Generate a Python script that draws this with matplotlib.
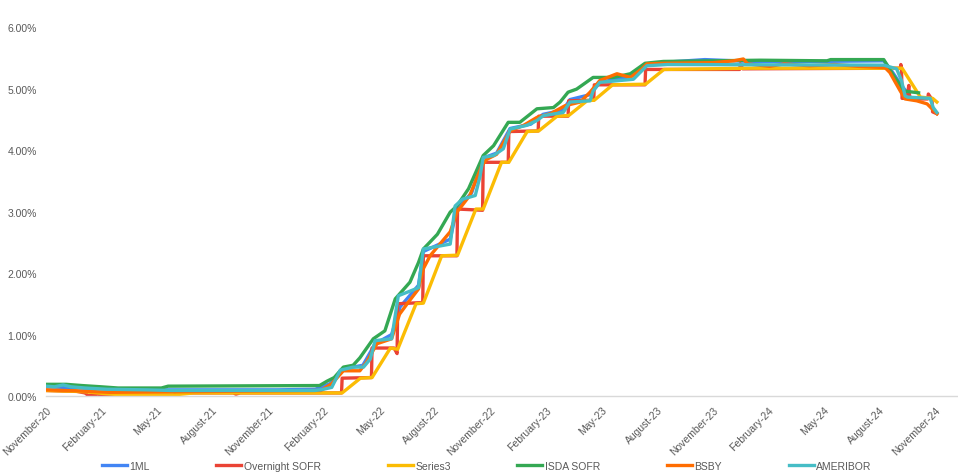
import pandas as pd
import matplotlib.pyplot as plt
from matplotlib.ticker import FuncFormatter

plt.rcParams['font.family'] = ['Liberation Sans', 'DejaVu Sans']

# rates in percent (date, value)
ml1 = [('2020-11-17', 0.15), ('2021-01-15', 0.13), ('2021-03-01', 0.11), ('2021-06-01', 0.10),
       ('2021-12-01', 0.10), ('2022-02-01', 0.11), ('2022-02-25', 0.20), ('2022-03-19', 0.44),
       ('2022-04-20', 0.50), ('2022-05-10', 0.85), ('2022-06-06', 1.00), ('2022-06-20', 1.45),
       ('2022-07-20', 1.80), ('2022-07-28', 2.35), ('2022-09-10', 2.55), ('2022-09-21', 3.05),
       ('2022-10-15', 3.30), ('2022-11-03', 3.87), ('2022-11-25', 3.95), ('2022-12-17', 4.35),
       ('2023-01-20', 4.42), ('2023-02-09', 4.58), ('2023-03-14', 4.65), ('2023-03-25', 4.82),
       ('2023-04-27', 4.90), ('2023-05-13', 5.10), ('2023-06-30', 5.19), ('2023-07-28', 5.39),
       ('2023-09-01', 5.43), ('2023-11-01', 5.47), ('2024-01-15', 5.44), ('2024-05-01', 5.44),
       ('2024-08-20', 5.45), ('2024-09-01', 5.30), ('2024-09-18', 5.05), ('2024-09-30', 4.90)]

sofr = [('2020-11-17', 0.09), ('2020-12-15', 0.08), ('2021-01-04', 0.08), ('2021-01-20', 0.05),
        ('2021-01-25', 0.01), ('2021-02-10', 0.03), ('2021-02-20', 0.01), ('2021-05-31', 0.01),
        ('2021-06-16', 0.01), ('2021-06-17', 0.05), ('2021-09-20', 0.05), ('2021-09-24', 0.03),
        ('2021-10-01', 0.05), ('2022-03-16', 0.05), ('2022-03-17', 0.29), ('2022-05-04', 0.30),
        ('2022-05-05', 0.78), ('2022-06-10', 0.78), ('2022-06-15', 0.69), ('2022-06-16', 1.50),
        ('2022-07-27', 1.52), ('2022-07-28', 2.28), ('2022-09-21', 2.28), ('2022-09-22', 3.04),
        ('2022-11-02', 3.02), ('2022-11-03', 3.80), ('2022-12-14', 3.80), ('2022-12-15', 4.30),
        ('2023-02-01', 4.31), ('2023-02-02', 4.55), ('2023-03-22', 4.55), ('2023-03-23', 4.80),
        ('2023-05-03', 4.81), ('2023-05-04', 5.06), ('2023-07-26', 5.06), ('2023-07-27', 5.31),
        ('2023-12-28', 5.31), ('2023-12-29', 5.40), ('2024-01-02', 5.32), ('2024-09-16', 5.33),
        ('2024-09-17', 5.39), ('2024-09-18', 5.34), ('2024-09-19', 4.84), ('2024-09-27', 4.84),
        ('2024-09-30', 5.05), ('2024-10-01', 4.90), ('2024-10-03', 4.83), ('2024-10-31', 4.83),
        ('2024-11-01', 4.91), ('2024-11-07', 4.82), ('2024-11-08', 4.62), ('2024-11-15', 4.59)]

series3 = [('2020-11-17', 0.09), ('2020-12-20', 0.08), ('2021-01-20', 0.07), ('2021-02-20', 0.04),
           ('2021-03-20', 0.02), ('2021-06-17', 0.02), ('2021-07-17', 0.05), ('2022-03-17', 0.05),
           ('2022-04-16', 0.29), ('2022-05-05', 0.30), ('2022-06-04', 0.78), ('2022-06-16', 0.76),
           ('2022-07-16', 1.50), ('2022-07-28', 1.51), ('2022-08-27', 2.28), ('2022-09-22', 2.29),
           ('2022-10-22', 3.04), ('2022-11-03', 3.04), ('2022-12-03', 3.80), ('2022-12-15', 3.80),
           ('2023-01-14', 4.30), ('2023-02-02', 4.31), ('2023-03-04', 4.55), ('2023-03-23', 4.56),
           ('2023-04-22', 4.80), ('2023-05-04', 4.81), ('2023-06-03', 5.06), ('2023-07-27', 5.07),
           ('2023-08-26', 5.31), ('2024-01-15', 5.33), ('2024-09-19', 5.33), ('2024-10-19', 4.86),
           ('2024-11-08', 4.84), ('2024-11-15', 4.78)]

isda_sofr = [('2020-11-17', 0.19), ('2020-12-20', 0.19), ('2021-01-15', 0.17), ('2021-02-15', 0.15),
             ('2021-03-15', 0.13), ('2021-05-25', 0.13), ('2021-06-05', 0.16), ('2022-02-08', 0.17),
             ('2022-02-20', 0.24), ('2022-03-04', 0.30), ('2022-03-19', 0.47), ('2022-04-04', 0.50),
             ('2022-04-15', 0.62), ('2022-05-07', 0.93), ('2022-05-26', 1.06), ('2022-06-12', 1.58),
             ('2022-07-06', 1.85), ('2022-07-20', 2.17), ('2022-07-28', 2.39), ('2022-08-20', 2.63),
             ('2022-09-10', 2.99), ('2022-09-21', 3.09), ('2022-10-10', 3.37), ('2022-11-03', 3.91),
             ('2022-11-20', 4.07), ('2022-12-14', 4.45), ('2023-01-02', 4.45), ('2023-01-30', 4.67),
             ('2023-02-26', 4.69), ('2023-03-09', 4.78), ('2023-03-22', 4.94), ('2023-04-05', 4.99),
             ('2023-05-02', 5.18), ('2023-06-04', 5.18), ('2023-07-02', 5.24), ('2023-07-26', 5.41),
             ('2023-08-25', 5.44), ('2024-01-31', 5.46), ('2024-05-19', 5.45), ('2024-05-25', 5.47),
             ('2024-08-20', 5.47), ('2024-09-05', 5.21), ('2024-09-16', 5.05), ('2024-09-21', 4.96),
             ('2024-10-16', 4.93)]

bsby = [('2020-11-17', 0.10), ('2021-01-15', 0.08), ('2021-03-01', 0.06), ('2021-07-01', 0.07),
        ('2022-02-10', 0.09), ('2022-02-28', 0.20), ('2022-03-19', 0.41), ('2022-04-15', 0.41),
        ('2022-04-26', 0.55), ('2022-05-13', 0.85), ('2022-06-06', 0.93), ('2022-06-19', 1.33),
        ('2022-07-03', 1.52), ('2022-07-20', 1.74), ('2022-07-28', 2.07), ('2022-08-08', 2.28),
        ('2022-08-24', 2.47), ('2022-09-10', 2.67), ('2022-09-21', 2.99), ('2022-10-12', 3.26),
        ('2022-11-01', 3.75), ('2022-11-09', 3.85), ('2022-11-25', 3.93), ('2022-12-17', 4.31),
        ('2023-01-08', 4.40), ('2023-01-30', 4.53), ('2023-02-21', 4.59), ('2023-03-17', 4.72),
        ('2023-04-11', 4.78), ('2023-04-27', 4.94), ('2023-05-13', 5.13), ('2023-06-10', 5.24),
        ('2023-07-02', 5.18), ('2023-07-21', 5.32), ('2023-07-29', 5.40), ('2023-08-26', 5.41),
        ('2023-11-15', 5.42), ('2023-12-18', 5.45), ('2024-01-03', 5.48), ('2024-01-10', 5.40),
        ('2024-02-15', 5.36), ('2024-03-10', 5.40), ('2024-04-20', 5.37), ('2024-06-01', 5.39),
        ('2024-07-10', 5.36), ('2024-08-22', 5.34), ('2024-08-30', 5.26), ('2024-09-08', 5.10),
        ('2024-09-16', 4.96), ('2024-09-24', 4.83), ('2024-10-13', 4.80), ('2024-10-30', 4.75),
        ('2024-11-15', 4.59)]

ameribor = [('2020-11-17', 0.16), ('2020-12-01', 0.15), ('2020-12-15', 0.18), ('2020-12-28', 0.15),
            ('2021-01-20', 0.13), ('2021-02-25', 0.11), ('2021-05-01', 0.10), ('2021-06-10', 0.09),
            ('2022-01-31', 0.09), ('2022-02-10', 0.10), ('2022-02-28', 0.14), ('2022-03-14', 0.42),
            ('2022-04-04', 0.47), ('2022-04-21', 0.47), ('2022-05-02', 0.60), ('2022-05-10', 0.90),
            ('2022-06-06', 0.93), ('2022-06-17', 1.63), ('2022-07-20', 1.76), ('2022-07-28', 2.39),
            ('2022-09-10', 2.47), ('2022-09-18', 3.09), ('2022-09-30', 3.20), ('2022-10-21', 3.26),
            ('2022-10-29', 3.58), ('2022-11-03', 3.88), ('2022-11-20', 3.91), ('2022-12-06', 4.02),
            ('2022-12-17', 4.34), ('2023-01-13', 4.40), ('2023-01-30', 4.48), ('2023-02-10', 4.56),
            ('2023-03-14', 4.61), ('2023-03-25', 4.78), ('2023-04-27', 4.80), ('2023-05-02', 4.96),
            ('2023-05-13', 5.10), ('2023-07-07', 5.15), ('2023-07-29', 5.37), ('2023-09-01', 5.39),
            ('2024-08-20', 5.38), ('2024-09-10', 5.32), ('2024-09-18', 5.13), ('2024-09-24', 4.88),
            ('2024-09-28', 4.86), ('2024-11-04', 4.84), ('2024-11-09', 4.69), ('2024-11-15', 4.61)]

names = ['1ML', 'Overnight SOFR', 'Series3', 'ISDA SOFR', 'BSBY', 'AMERIBOR']
colors = ['#4285F4', '#EA4335', '#FBBC04', '#34A853', '#FF6D01', '#46BDC6']
all_series = [ml1, sofr, series3, isda_sofr, bsby, ameribor]

tick_dates = ['2020-11-17', '2021-02-16', '2021-05-18', '2021-08-17', '2021-11-16', '2022-02-15',
              '2022-05-17', '2022-08-16', '2022-11-15', '2023-02-14', '2023-05-16', '2023-08-15',
              '2023-11-14', '2024-02-13', '2024-05-14', '2024-08-13', '2024-11-12']

fig = plt.figure(figsize=(9.58, 4.77), dpi=100)
ax = fig.add_axes([0.048, 0.1677, 0.951, 0.7736])

for name, color, data in zip(names, colors, all_series):
    df = pd.DataFrame(data, columns=['date', 'rate'])
    df['date'] = pd.to_datetime(df['date'])
    ax.plot(df['date'], df['rate'], color=color, linewidth=2.4, label=name,
            solid_joinstyle='round')

ax.set_ylim(0, 6)
ax.set_yticks([0, 1, 2, 3, 4, 5, 6])
ax.yaxis.set_major_formatter(FuncFormatter(lambda v, p: f'{v:.2f}%'))
ax.set_xlim(pd.Timestamp('2020-11-17'), pd.Timestamp('2024-12-18'))

ticks = pd.to_datetime(tick_dates)
ax.set_xticks(ticks)
ax.set_xticklabels([t.strftime('%B-%y') for t in ticks], rotation=45, ha='right',
                   rotation_mode='anchor')

for s in ['top', 'right', 'left']:
    ax.spines[s].set_visible(False)
ax.spines['bottom'].set_color('#D9D9D9')
ax.spines['bottom'].set_linewidth(1)
ax.tick_params(axis='both', length=0, labelsize=7.5, labelcolor='#595959')
ax.tick_params(axis='y', pad=6.5)
ax.tick_params(axis='x', pad=6)

fig.legend(loc='center', bbox_to_anchor=(0.508, 0.021), ncol=6, frameon=False,
           fontsize=7.5, labelcolor='#595959', handlelength=2.4, handletextpad=0.25,
           columnspacing=6.4)

plt.savefig('out.png', dpi=100)
